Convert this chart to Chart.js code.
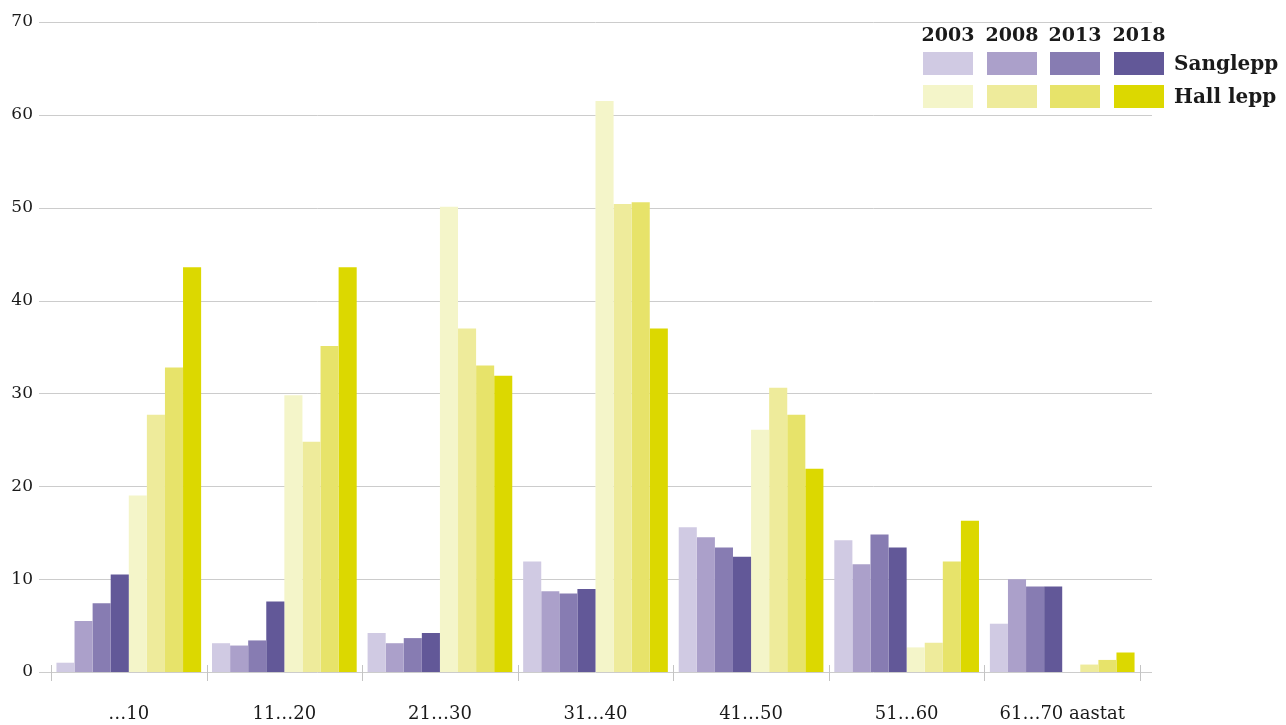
<!DOCTYPE html>
<html lang="et">
<head>
  <meta charset="UTF-8">
  <title>Sanglepp ja hall lepp</title>
  <script src="https://cdn.jsdelivr.net/npm/chart.js@4.4.2/dist/chart.umd.min.js"></script>
  <style>
    body {
      margin: 0;
      padding: 0;
      background: #fff;
      font-family: 'DejaVu Serif', serif;
      color: #1a1a1a;
    }

    .wrap {
      position: relative;
      width: 1286px;
      height: 725px;
    }

    .legend div {
      position: absolute;
      white-space: nowrap;
    }

    .year {
      font-weight: bold;
      font-size: 19px;
      width: 60px;
      text-align: center;
      line-height: 24px;
    }

    .swatch {
      width: 50px;
      height: 23px;
    }

    .name {
      font-weight: bold;
      font-size: 20px;
      line-height: 24px;
    }
  </style>
</head>
<body>

  <div class="wrap">
    <canvas id="chart" width="1286" height="725"></canvas>
    <div class="legend" id="legend"></div>
  </div>

  <script>
    // vanuseklassid
    const categories = ['…10', '11…20', '21…30', '31…40', '41…50', '51…60', '61…70 aastat'];
    const years = ['2003', '2008', '2013', '2018'];
    const species = ['Sanglepp', 'Hall lepp'];

    // sanglepp, %
    const sang2003 = [1.0, 3.1, 4.2, 11.9, 15.6, 14.2, 5.2];
    const sang2008 = [5.5, 2.85, 3.1, 8.7, 14.5, 11.6, 10.0];
    const sang2013 = [7.4, 3.4, 3.65, 8.45, 13.4, 14.8, 9.2];
    const sang2018 = [10.5, 7.6, 4.2, 8.95, 12.4, 13.4, 9.2];

    // hall lepp, %
    const hall2003 = [19.0, 29.8, 50.1, 61.5, 26.1, 2.65, null];
    const hall2008 = [27.7, 24.8, 37.0, 50.4, 30.6, 3.15, 0.8];
    const hall2013 = [32.8, 35.1, 33.0, 50.6, 27.7, 11.9, 1.3];
    const hall2018 = [43.6, 43.6, 31.9, 37.0, 21.9, 16.3, 2.1];

    const sangColors = ['#d0cae3', '#aba0ca', '#877cb2', '#625898'];
    const hallColors = ['#f4f5c9', '#eeeb9b', '#e7e36a', '#dcd800'];

    const sangSeries = [sang2003, sang2008, sang2013, sang2018];
    const hallSeries = [hall2003, hall2008, hall2013, hall2018];

    const datasets = [];
    sangSeries.forEach((d, i) => datasets.push({
      label: species[0] + ' ' + years[i], data: d, backgroundColor: sangColors[i]
    }));
    hallSeries.forEach((d, i) => datasets.push({
      label: species[1] + ' ' + years[i], data: d, backgroundColor: hallColors[i]
    }));

    // horisontaalsed abijooned, veidi üle joonise ala
    const gridLines = {
      id: 'gridLines',
      beforeDatasetsDraw(chart) {
        const { ctx, chartArea, scales: { y } } = chart;
        ctx.save();
        ctx.strokeStyle = '#cccccc';
        ctx.lineWidth = 1;
        y.ticks.forEach(t => {
          const py = Math.round(y.getPixelForValue(t.value)) + 0.5;
          ctx.beginPath();
          ctx.moveTo(chartArea.left - 12, py);
          ctx.lineTo(chartArea.right + 12, py);
          ctx.stroke();
        });
        ctx.restore();
      }
    };

    // väikesed ristid x-teljel rühmade vahel
    const groupTicks = {
      id: 'groupTicks',
      afterDatasetsDraw(chart) {
        const { ctx, chartArea, scales: { x, y } } = chart;
        const y0 = Math.round(y.getPixelForValue(0));
        const n = categories.length;
        ctx.save();
        ctx.strokeStyle = '#c4c4c4';
        ctx.lineWidth = 1;
        for (let i = 0; i <= n; i++) {
          let px;
          if (i === 0) px = chartArea.left;
          else if (i === n) px = chartArea.right;
          else px = (x.getPixelForValue(i - 1) + x.getPixelForValue(i)) / 2;
          px = Math.round(px) + 0.5;
          ctx.beginPath();
          ctx.moveTo(px, y0 - 7);
          ctx.lineTo(px, y0 + 9);
          ctx.stroke();
        }
        ctx.restore();
      }
    };

    new Chart(document.getElementById('chart'), {
      type: 'bar',
      data: { labels: categories, datasets },
      options: {
        responsive: false,
        animation: false,
        devicePixelRatio: 1,
        layout: { padding: { top: 22, right: 146, bottom: 0, left: 0 } },
        datasets: {
          bar: { categoryPercentage: 0.93, barPercentage: 1, borderWidth: 0 }
        },
        plugins: {
          legend: { display: false },
          tooltip: { enabled: false }
        },
        scales: {
          x: {
            offset: true,
            grid: { display: false },
            border: { display: false },
            ticks: {
              color: '#1a1a1a',
              padding: 24,
              maxRotation: 0,
              font: { family: 'DejaVu Serif', size: 18 }
            },
            afterFit(scale) {
              scale.height = 53;
              scale.paddingLeft = 0;
              scale.paddingRight = 0;
            }
          },
          y: {
            min: 0,
            max: 70,
            grid: { display: false, drawTicks: false },
            border: { display: false },
            ticks: {
              stepSize: 10,
              color: '#1a1a1a',
              padding: 18,
              font: { family: 'DejaVu Serif', size: 17 }
            },
            afterFit(scale) {
              scale.width = 51;
              scale.paddingTop = 0;
              scale.paddingBottom = 0;
            }
          }
        }
      },
      plugins: [gridLines, groupTicks]
    });

    // legend: aastad, värviruudud ja liiginimed
    const legend = document.getElementById('legend');
    const swatchLeft = [923, 987, 1050, 1114];
    const rowTop = [52, 85];
    const rowColors = [sangColors, hallColors];

    function addDiv(cls, text, left, top, bg) {
      const el = document.createElement('div');
      el.className = cls;
      if (text) el.textContent = text;
      el.style.left = left + 'px';
      el.style.top = top + 'px';
      if (bg) el.style.background = bg;
      legend.appendChild(el);
    }

    years.forEach((yr, i) => {
      addDiv('year', yr, swatchLeft[i] - 5, 22);
      rowTop.forEach((top, r) => addDiv('swatch', '', swatchLeft[i], top, rowColors[r][i]));
    });
    species.forEach((name, r) => addDiv('name', name, 1174, rowTop[r] - 1));
  </script>

</body>
</html>
